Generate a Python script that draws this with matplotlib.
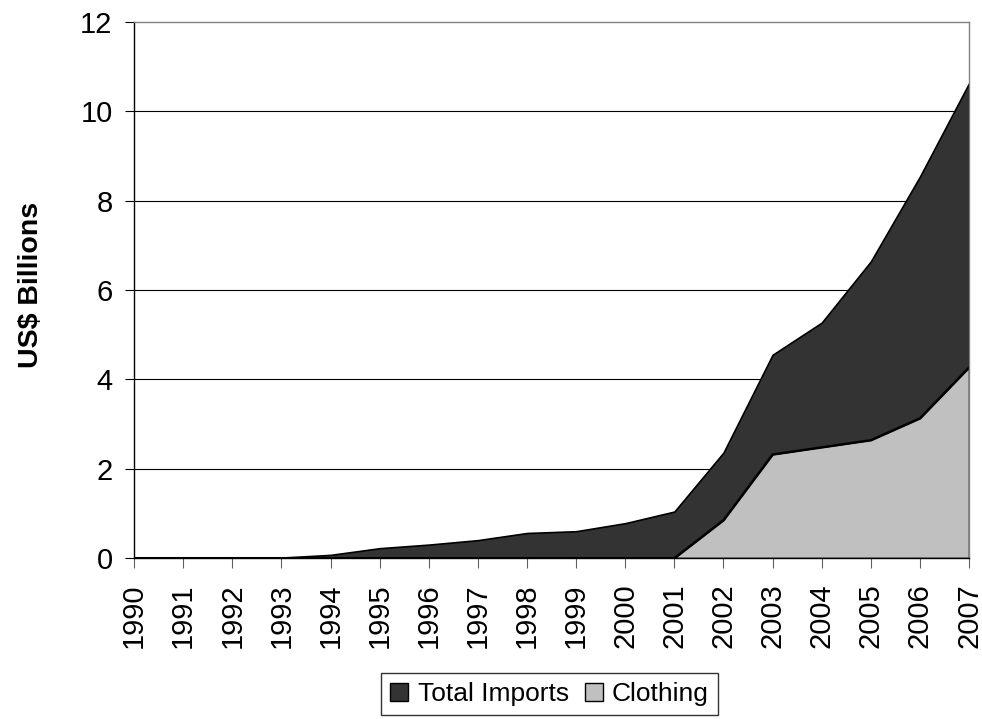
import matplotlib
matplotlib.use("Agg")
import matplotlib.pyplot as plt
from matplotlib.patches import Patch

years = list(range(1990, 2008))
total_imports = [0.0, 0.0, 0.0, 0.01, 0.07, 0.22, 0.30, 0.40, 0.56, 0.60, 0.78, 1.04,
                 2.36, 4.55, 5.27, 6.64, 8.54, 10.63]
clothing = [0.0, 0.0, 0.0, 0.0, 0.0, 0.0, 0.0, 0.0, 0.0, 0.0, 0.0, 0.0,
            0.85, 2.32, 2.48, 2.64, 3.13, 4.27]
year_labels = [str(y) for y in years]

plt.rcParams['font.family'] = ['Liberation Sans', 'DejaVu Sans']

fig = plt.figure(figsize=(9.82, 7.19), dpi=100)
ax = fig.add_axes([0.1365, 0.2239, 0.8503, 0.7455])

ax.fill_between(years, total_imports, 0, facecolor='#333333', edgecolor='black', linewidth=1.2, zorder=2)
ax.fill_between(years, clothing, 0, facecolor='#C0C0C0', edgecolor='black', linewidth=1.2, zorder=3)
ax.plot(years, clothing, color='black', linewidth=1.5, zorder=4)

ax.set_xlim(1990, 2007)
ax.set_ylim(0, 12)
ax.set_yticks(range(0, 13, 2))
ax.set_xticks(years)
ax.set_xticklabels(year_labels, rotation=90, fontsize=21)
ax.tick_params(axis='y', labelsize=21, length=6.5, direction='out', pad=9)
ax.tick_params(axis='x', length=7, direction='out', pad=11, color='#606060')
for g in range(2, 12, 2):
    ax.axhline(g, color='black', linewidth=0.8, zorder=1)

ax.spines['top'].set_color('#808080')
ax.spines['right'].set_color('#808080')
ax.spines['left'].set_color('black')
ax.spines['bottom'].set_color('black')
for s in ax.spines.values():
    s.set_linewidth(1.0)
    s.set_zorder(5)

ax.set_ylabel('US$ Billions', fontsize=20.5, fontweight='bold')
ax.yaxis.set_label_coords(-0.108, 0.51)

handles = [Patch(facecolor='#333333', edgecolor='black', label='Total Imports'),
           Patch(facecolor='#C0C0C0', edgecolor='black', label='Clothing')]
leg = fig.legend(handles=handles, loc='upper center', bbox_to_anchor=(0.5596, 0.064), ncol=2,
                 fontsize=19, frameon=True, fancybox=False, edgecolor='black',
                 handlelength=0.68, handleheight=0.68, handletextpad=0.35, columnspacing=0.6,
                 borderpad=0.35, borderaxespad=0)
leg.get_frame().set_linewidth(1.0)

fig.savefig('out.png', dpi=100)
